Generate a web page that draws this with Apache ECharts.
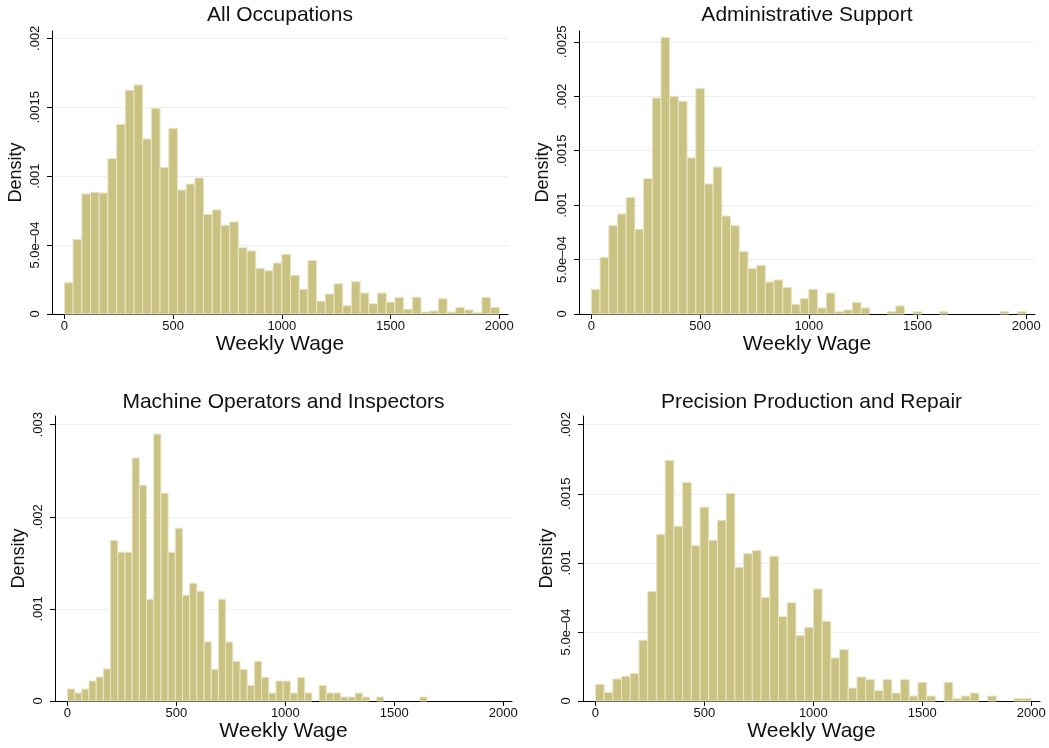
<!DOCTYPE html>
<html>
<head>
<meta charset="utf-8">
<script src="https://cdn.jsdelivr.net/npm/echarts@6/dist/echarts.min.js"></script>
<style>
  html, body { margin: 0; padding: 0; background: #ffffff; }
  #chart { width: 1049px; height: 748px; }
</style>
</head>
<body>
<div id="chart"></div>
<script>
// Weekly wage histograms (density), one panel per occupation group.
const panelTitles = [
  'All Occupations',
  'Administrative Support',
  'Machine Operators and Inspectors',
  'Precision Production and Repair'
];

// Bins start at 0; each panel has 50 bins of the given width.
const binStart = 0;
const binWidths = [40, 40, 33, 40];

const allOccupations = [
  0.000227, 0.000542, 0.000871, 0.000883, 0.000878, 0.001127, 0.001376, 0.001623, 0.001662, 0.00127,
  0.00149, 0.001064, 0.001347, 0.0009, 0.000943, 0.000987, 0.000723, 0.000755, 0.000643, 0.000668,
  0.000481, 0.000457, 0.000331, 0.000314, 0.00037, 0.000433, 0.000281, 0.000179, 0.000389, 0.000093,
  0.000145, 0.00022, 0.00006, 0.000234, 0.000152, 0.000075, 0.000152, 0.000086, 0.00012, 0.000034,
  0.000122, 0.000014, 0.000022, 0.000111, 0.000014, 0.000048, 0.000029, 0.00001, 0.00012, 0.000048
];

const administrativeSupport = [
  0.000227, 0.000521, 0.000812, 0.000919, 0.00107, 0.000778, 0.001244, 0.001985, 0.00254, 0.002,
  0.001955, 0.001434, 0.002071, 0.001195, 0.001351, 0.0009, 0.000812, 0.000573, 0.000417, 0.000447,
  0.000294, 0.000313, 0.000245, 0.000089, 0.000141, 0.000227, 0.000055, 0.000193, 0.000021, 0.000037,
  0.000107, 0.000055, 0, 0, 0.000021, 0.000074, 0, 0.000021, 0, 0,
  0.000021, 0, 0, 0, 0, 0, 0, 0.000021, 0, 0.000021
];

const machineOperators = [
  0.00013, 0.000087, 0.00013, 0.000217, 0.00026, 0.000348, 0.001743, 0.001616, 0.001616, 0.002638,
  0.002344, 0.001105, 0.002899, 0.002257, 0.001616, 0.001877, 0.001149, 0.001279, 0.001192, 0.000641,
  0.000344, 0.001105, 0.000641, 0.000431, 0.000344, 0.00017, 0.000431, 0.000257, 0.000087, 0.000217,
  0.000217, 0.000087, 0.000257, 0.000087, 0, 0.00017, 0.000087, 0.000087, 0.0000435, 0.0000435,
  0.000087, 0.0000435, 0, 0.0000435, 0, 0, 0, 0, 0, 0.0000435
];

const precisionProduction = [
  0.000121, 0.000063, 0.000159, 0.000179, 0.0002, 0.00044, 0.000792, 0.001205, 0.001741, 0.001265,
  0.001582, 0.001125, 0.001403, 0.001164, 0.001309, 0.001502, 0.000968, 0.001067, 0.001089, 0.000749,
  0.001048, 0.000611, 0.000712, 0.000473, 0.000534, 0.000811, 0.000577, 0.000312, 0.000372, 0.000094,
  0.000174, 0.000155, 0.000075, 0.000155, 0.000058, 0.000155, 0.000036, 0.000135, 0.000036, 0,
  0.000135, 0.000017, 0.000036, 0.000058, 0, 0.000036, 0, 0, 0.000017, 0.000017
];

const panelDensities = [allOccupations, administrativeSupport, machineOperators, precisionProduction];

// Axis ticks and their labels
const xTickValues = [0, 500, 1000, 1500, 2000];
const xTickLabels = ['0', '500', '1000', '1500', '2000'];
const yTickValues = [
  [0, 0.0005, 0.001, 0.0015, 0.002],
  [0, 0.0005, 0.001, 0.0015, 0.002, 0.0025],
  [0, 0.001, 0.002, 0.003],
  [0, 0.0005, 0.001, 0.0015, 0.002]
];
const yTickLabels = [
  ['0', '5.0e\u201304', '.001', '.0015', '.002'],
  ['0', '5.0e\u201304', '.001', '.0015', '.002', '.0025'],
  ['0', '.001', '.002', '.003'],
  ['0', '5.0e\u201304', '.001', '.0015', '.002']
];
const xAxisTitle = 'Weekly Wage';
const yAxisTitle = 'Density';

// Plot-region layout and axis extents
const gridBoxes = [
  { left: 52, top: 31, width: 456, height: 283 },
  { left: 579, top: 31, width: 456, height: 283 },
  { left: 55, top: 416, width: 457, height: 285 },
  { left: 583, top: 416, width: 457, height: 285 }
];
const xExtent = [-57, 2040];
const yMaxes = [0.002053, 0.0026, 0.003095, 0.002063];

const FONT = '"Liberation Sans", Arial, Helvetica, sans-serif';
const TEXT = '#111111';
const BAR_FILL = '#cac283';
const BAR_EDGE = '#e9e6c2';
const GRID_LINE = '#e7efef';

function labelFor(values, labels, v) {
  for (let i = 0; i < values.length; i++) {
    if (Math.abs(values[i] - v) < 1e-9) return labels[i];
  }
  return '';
}

const grid = [], xAxis = [], yAxis = [], series = [], graphic = [];

panelDensities.forEach(function (dens, p) {
  const w = binWidths[p];
  const data = dens.map(function (d, i) {
    const x0 = binStart + i * w;
    return [x0, x0 + w, d];
  });

  grid.push(Object.assign({ containLabel: false }, gridBoxes[p]));

  xAxis.push({
    type: 'value',
    gridIndex: p,
    min: xExtent[0],
    max: xExtent[1],
    name: xAxisTitle,
    nameLocation: 'middle',
    nameGap: 18,
    nameTextStyle: { fontFamily: FONT, fontSize: 21, color: TEXT },
    axisLine: { show: true, onZero: false, lineStyle: { color: '#000', width: 1 } },
    axisTick: { show: true, length: 5, customValues: xTickValues, lineStyle: { color: '#000' } },
    axisLabel: {
      customValues: xTickValues,
      margin: 6,
      fontFamily: FONT, fontSize: 13, color: TEXT,
      formatter: function (v) { return labelFor(xTickValues, xTickLabels, v); }
    },
    splitLine: { show: false }
  });

  const yv = yTickValues[p], yl = yTickLabels[p];
  yAxis.push({
    type: 'value',
    gridIndex: p,
    min: 0,
    max: yMaxes[p],
    name: yAxisTitle,
    nameLocation: 'middle',
    nameGap: 27,
    nameTextStyle: { fontFamily: FONT, fontSize: 18, color: TEXT },
    axisLine: { show: true, onZero: false, lineStyle: { color: '#000', width: 1 } },
    axisTick: { show: true, length: 5, customValues: yv, lineStyle: { color: '#000' } },
    axisLabel: {
      customValues: yv,
      rotate: 90,
      margin: 10,
      fontFamily: FONT, fontSize: 13, color: TEXT,
      formatter: function (v) { return labelFor(yv, yl, v); }
    },
    splitLine: { show: true, lineStyle: { color: GRID_LINE, width: 1 } }
  });

  series.push({
    type: 'custom',
    xAxisIndex: p,
    yAxisIndex: p,
    data: data,
    encode: { x: [0, 1], y: 2 },
    clip: false,
    renderItem: function (params, api) {
      const x0 = api.value(0), x1 = api.value(1), y = api.value(2);
      if (!(y > 0)) return null;
      const topLeft = api.coord([x0, y]);
      const bottomRight = api.coord([x1, 0]);
      return {
        type: 'rect',
        shape: {
          x: topLeft[0],
          y: topLeft[1],
          width: bottomRight[0] - topLeft[0],
          height: bottomRight[1] - topLeft[1]
        },
        style: { fill: BAR_FILL, stroke: BAR_EDGE, lineWidth: 1 }
      };
    }
  });

  const g = gridBoxes[p];
  graphic.push({
    type: 'text',
    x: g.left + g.width / 2,
    y: p < 2 ? 15 : 402,
    style: {
      text: panelTitles[p],
      font: '21px ' + FONT,
      fill: TEXT,
      align: 'center',
      verticalAlign: 'middle'
    }
  });
});

const chart = echarts.init(document.getElementById('chart'), null, { renderer: 'canvas' });
chart.setOption({
  animation: false,
  backgroundColor: '#ffffff',
  grid: grid,
  xAxis: xAxis,
  yAxis: yAxis,
  series: series,
  graphic: graphic
});
</script>
</body>
</html>
